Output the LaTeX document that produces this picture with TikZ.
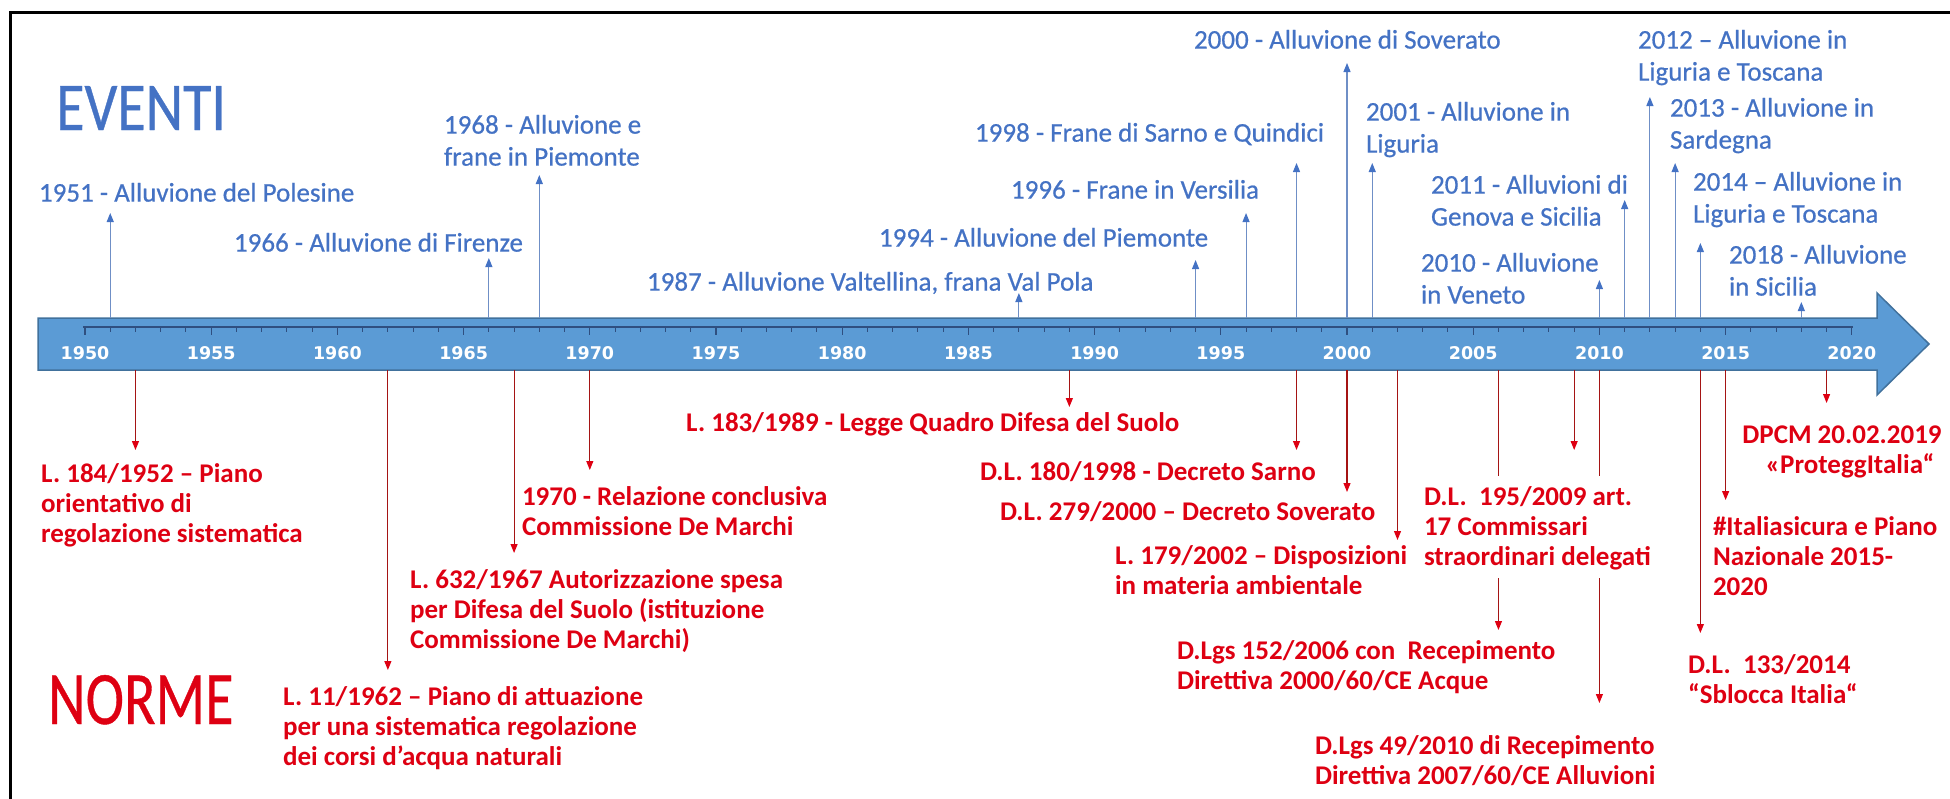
\documentclass[tikz,border=0pt]{standalone}
\usepackage{fontspec}
\setmainfont{Carlito}
\newfontfamily\evfont{Carlito}[FakeBold=0.6]
\newfontfamily\yearfont{DejaVu Sans}
\usetikzlibrary{arrows.meta}
\definecolor{evblue}{HTML}{4472C4}
\definecolor{evline}{HTML}{6F8FC6}
\definecolor{nored}{RGB}{222,0,18}
\definecolor{noline}{RGB}{165,20,20}
\definecolor{bandfill}{HTML}{5B9BD5}
\definecolor{bandedge}{HTML}{41719C}
\definecolor{tickcol}{HTML}{2F4F80}
\newcommand\ls{\rule{0pt}{21.6pt}}
\begin{document}
\begin{tikzpicture}[x=1pt,y=-1pt,
  evlabel/.style={anchor=north west,inner sep=0pt,outer sep=0pt,align=left,text=evblue,font=\evfont\fontsize{27}{32}\selectfont},
  nolabel/.style={anchor=north west,inner sep=0pt,outer sep=0pt,align=left,text=nored,font=\bfseries\fontsize{27}{30}\selectfont},
  evarrow/.style={draw=evline,line width=1.1pt,-{Triangle[length=9pt,width=7pt,color=evblue]}},
  noarrow/.style={draw=noline,line width=1.1pt,-{Triangle[length=9pt,width=7pt,color=nored]}},
  yearlbl/.style={inner sep=0pt,text=white,font=\yearfont\bfseries\fontsize{17.5}{20}\selectfont},
  title/.style={anchor=base west,inner sep=0pt,font=\evfont\fontsize{58}{60}\selectfont}]
\useasboundingbox (0,0) rectangle (1950,798);
% frame
\draw[black,line width=3pt] (1952,12) -- (10,12) -- (10,800);
% band arrow
\draw[bandedge,line width=1.5pt,fill=bandfill]
  (38,318) -- (1877,318) -- (1877,293) -- (1929,344) -- (1877,395) -- (1877,370) -- (38,370) -- cycle;
% ruler
\draw[tickcol,line width=1.3pt] (83,327) -- (1853,327);
\foreach \i in {0,...,70}{
  \pgfmathsetmacro\tx{85+\i*25.24}
  \pgfmathtruncatemacro\m{mod(\i,5)}
  \ifnum\m=0
    \draw[tickcol,line width=1.2pt] (\tx,327) -- (\tx,335);
  \else
    \draw[tickcol,line width=1pt] (\tx,327) -- (\tx,332);
  \fi
}
\foreach \yr in {1950,1955,...,2020}{
  \node[yearlbl] (y\yr) at ({85+(\yr-1950)*25.24},353) {\yr};
}
% event arrows
\foreach \yr/\tip in {1951/213,1966/258,1968/175,1987/293,1994/260,1996/213,1998/163,2000/63,2001/163,2010/280,2011/200,2012/97,2013/163,2014/243,2018/302}{
  \coordinate (eb\yr) at ({85+(\yr-1950)*25.24},318);
  \coordinate (et\yr) at ({85+(\yr-1950)*25.24},\tip);
  \draw[evarrow] (eb\yr) -- (et\yr);
}
% norm arrows
\foreach \yr/\tip in {1952/450,1962/670,1967/553,1970/470,1989/407,1998/450,2000/492,2002/540,2006/630,2009/450,2010/703,2014/633,2015/500,2019/403}{
  \coordinate (nb\yr) at ({85+(\yr-1950)*25.24},370);
  \coordinate (nt\yr) at ({85+(\yr-1950)*25.24},\tip);
  \draw[noarrow] (nb\yr) -- (nt\yr);
}
% titles
\node[title,text=evblue] (eventi) at (56,130) {\scalebox{1}[1.18]{EVENTI}};
\node[title,text=nored] (norme) at (48,724) {\scalebox{1}[1.3]{NORME}};
% event labels
\node[evlabel] (ev1951) at (39,180) {\ls 1951 - Alluvione del Polesine};
\node[evlabel] (ev1966) at (234,230) {\ls 1966 - Alluvione di Firenze};
\node[evlabel] (ev1968) at (444,112) {\ls 1968 - Alluvione e\\frane in Piemonte};
\node[evlabel] (ev1987) at (647,269) {\ls 1987 - Alluvione Valtellina, frana Val Pola};
\node[evlabel] (ev1994) at (879,225) {\ls 1994 - Alluvione del Piemonte};
\node[evlabel] (ev1996) at (1011,177) {\ls 1996 - Frane in Versilia};
\node[evlabel] (ev1998) at (975,120) {\ls 1998 - Frane di Sarno e Quindici};
\node[evlabel] (ev2000) at (1194,27) {\ls 2000 - Alluvione di Soverato};
\node[evlabel] (ev2001) at (1366,99) {\ls 2001 - Alluvione in\\Liguria};
\node[evlabel] (ev2010) at (1421,250) {\ls 2010 - Alluvione\\in Veneto};
\node[evlabel] (ev2011) at (1431,172) {\ls 2011 - Alluvioni di\\Genova e Sicilia};
\node[evlabel] (ev2012) at (1638,27) {\ls 2012 – Alluvione in\\Liguria e Toscana};
\node[evlabel] (ev2013) at (1670,95) {\ls 2013 - Alluvione in\\Sardegna};
\node[evlabel] (ev2014) at (1693,169) {\ls 2014 – Alluvione in\\Liguria e Toscana};
\node[evlabel] (ev2018) at (1729,242) {\ls 2018 - Alluvione\\in Sicilia};
% norm labels
\node[nolabel] (no1952) at (41,461) {\ls L. 184/1952 – Piano\\orientativo di\\regolazione sistematica};
\node[nolabel] (no1962) at (283,684) {\ls L. 11/1962 – Piano di attuazione\\per una sistematica regolazione\\dei corsi d’acqua naturali};
\node[nolabel] (no1967) at (410,567) {\ls L. 632/1967 Autorizzazione spesa\\per Difesa del Suolo (istituzione\\Commissione De Marchi)};
\node[nolabel] (no1970) at (522,484) {\ls 1970 - Relazione conclusiva\\Commissione De Marchi};
\node[nolabel] (no1989) at (686,410) {\ls L. 183/1989 - Legge Quadro Difesa del Suolo};
\node[nolabel] (no1998) at (980,459) {\ls D.L. 180/1998 - Decreto Sarno};
\node[nolabel] (no2000) at (1000,499) {\ls D.L. 279/2000 – Decreto Soverato};
\node[nolabel] (no2002) at (1115,543) {\ls L. 179/2002 – Disposizioni\\in materia ambientale};
\node[nolabel] (no2006) at (1177,638) {\ls D.Lgs 152/2006 con\ \ Recepimento\\Direttiva 2000/60/CE Acque};
\node[nolabel,fill=white,inner sep=8pt] (no2009) at (1416,476) {\ls D.L.\ \ 195/2009 art.\\17 Commissari\\straordinari delegati};
\node[nolabel] (no2010) at (1315,733) {\ls D.Lgs 49/2010 di Recepimento\\Direttiva 2007/60/CE Alluvioni};
\node[nolabel,anchor=north,align=center] (no2019) at (1842,422) {\ls DPCM 20.02.2019\\\hspace*{16pt}«ProteggItalia“};
\node[nolabel] (no2015) at (1713,514) {\ls \#Italiasicura e Piano\\Nazionale 2015-\\2020};
\node[nolabel] (no2014) at (1688,652) {\ls D.L.\ \ 133/2014\\“Sblocca Italia“};
\end{tikzpicture}
\end{document}
